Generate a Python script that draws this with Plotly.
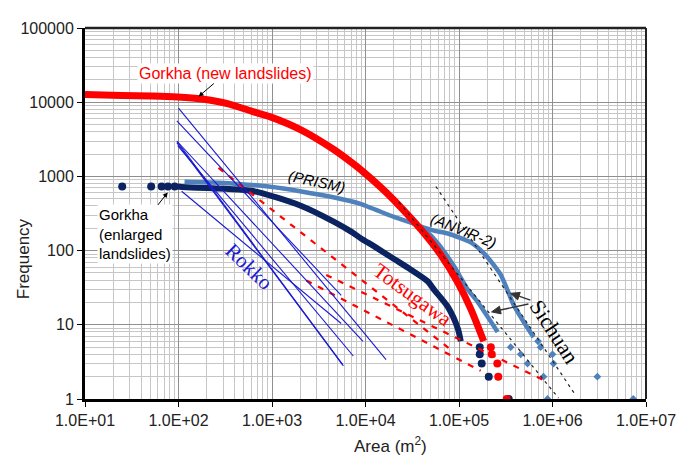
import plotly.graph_objects as go

# ---------------- data ----------------
x_tick_vals = [1e1, 1e2, 1e3, 1e4, 1e5, 1e6, 1e7]
x_tick_text = ["1.0E+01", "1.0E+02", "1.0E+03", "1.0E+04", "1.0E+05", "1.0E+06", "1.0E+07"]
y_tick_vals = [1, 10, 100, 1000, 10000, 100000]
y_tick_text = ["1", "10", "100", "1000", "10000", "100000"]

# Gorkha (new landslides) - red
gorkha_new_area = [10, 24.8, 51.8, 97.9, 177, 343, 603, 961, 2060, 4620, 7020, 8970, 14700, 20200, 39200, 64000, 97100, 133600, 183800]
gorkha_new_freq = [12670, 12290, 12110, 11750, 11050, 9500, 7560, 6340, 4210, 2285, 1558, 1222, 707, 477, 192, 87, 37, 16.4, 6]
gorkha_new_tail_area = [219000, 224000, 257000, 263000, 324000]
gorkha_new_tail_freq = [5, 4, 3, 2, 1]

# Gorkha (enlarged landslides) - navy
gorkha_enl_dot_area = [25, 51, 66, 77, 91]
gorkha_enl_dot_freq = [730, 730, 730, 730, 730]
gorkha_enl_area = [98, 108, 603, 2060, 4620, 7020, 8970, 12400, 20200, 28500, 46500, 53800, 76000, 97100, 104500]
gorkha_enl_freq = [730, 718, 640, 400, 244, 180, 146, 114, 77, 58.6, 38.3, 30, 17.4, 8.9, 6]
gorkha_enl_tail_area = [166700, 166700, 175000, 208000, 340000]
gorkha_enl_tail_freq = [5, 4, 3, 2, 1]

# Sichuan (PRISM) - light blue
prism_area = [116, 268, 916, 2060, 7020, 8970, 20200, 39200, 59400, 88100, 124000, 158500, 259000]
prism_freq = [849, 824, 730, 627, 463, 422, 284, 210, 125, 62, 30, 20.3, 8]
prism_tail_area = [357000, 457000, 541000, 801000, 885000]
prism_tail_freq = [5, 4, 3, 2, 1]

# Sichuan (ANVIR-2) - light blue
anvir_area = [39200, 53800, 76000, 133600, 183800, 235000, 279000, 331000, 384000, 491000, 628000]
anvir_freq = [210, 186, 170, 129, 92.5, 64.2, 47.3, 29.1, 18.5, 11.0, 6.8]
anvir_tail_area = [700000, 745000, 1000000, 1025000, 3020000, 7310000]
anvir_tail_freq = [6, 5, 4, 3, 2, 1]

# Sichuan power-law fits (black dotted)
fit1_area = [56600, 1760000]
fit1_freq = [730, 1.13]
fit2_area = [22800, 1160000]
fit2_freq = [449, 1.03]

# Totsugawa (red dashed)
totsu_areas = [[268, 85900], [2330, 170600], [3800, 906000]]
totsu_freqs = [[1300, 4.4], [39.5, 2.4], [47, 1.67]]

# Rokko (thin blue)
rokko_areas = [[100, 16600], [96, 5500], [96, 9400], [96, 5800], [97, 5700], [98, 7400], [108, 5500]]
rokko_freqs = [[8300, 3.4], [5600, 25], [3000, 6], [2850, 2.8], [2950, 2.9], [2600, 3.8], [630, 10.4]]

# ---------------- layout helpers ----------------
# the page body adds an 8px offset, so the figure is laid out 8px up/left
OFF = 8
W, H = 690, 460
PLOT_X0, PLOT_X1 = 83, 646      # plot area in reference pixels
PLOT_Y0, PLOT_Y1 = 20, 399
PW, PH = PLOT_X1 - PLOT_X0, PLOT_Y1 - PLOT_Y0
L = PLOT_X0 - OFF
T = PLOT_Y0 - OFF
R = W - L - PW
B = H - T - PH


def pxx(px):
    return (px - PLOT_X0) / PW


def pxy(py):
    return (PLOT_Y1 - py) / PH


RED = "#ff0000"
NAVY = "#0b2461"
LBLUE = "#4f81bd"
ROKKO = "#1a1ad0"
SANS = "Liberation Sans, Arial, sans-serif"
SERIF = "Liberation Serif, Times New Roman, serif"

fig = go.Figure()

# ANVIR-2
fig.add_trace(go.Scatter(x=anvir_area, y=anvir_freq, mode="lines", line=dict(color=LBLUE, width=4.5, shape="spline", smoothing=0.6), hoverinfo="skip"))
fig.add_trace(go.Scatter(x=anvir_tail_area, y=anvir_tail_freq, mode="markers", marker=dict(color=LBLUE, size=6, symbol="diamond"), hoverinfo="skip"))
# PRISM
fig.add_trace(go.Scatter(x=prism_area, y=prism_freq, mode="lines", line=dict(color=LBLUE, width=4.5, shape="spline", smoothing=0.6), hoverinfo="skip"))
fig.add_trace(go.Scatter(x=prism_tail_area, y=prism_tail_freq, mode="markers", marker=dict(color=LBLUE, size=6, symbol="diamond"), hoverinfo="skip"))

# Gorkha enlarged
fig.add_trace(go.Scatter(x=gorkha_enl_area, y=gorkha_enl_freq, mode="lines", line=dict(color=NAVY, width=6, shape="spline", smoothing=0.7), hoverinfo="skip"))
fig.add_trace(go.Scatter(x=gorkha_enl_dot_area + gorkha_enl_tail_area, y=gorkha_enl_dot_freq + gorkha_enl_tail_freq, mode="markers", marker=dict(color=NAVY, size=8), hoverinfo="skip"))

# Gorkha new
fig.add_trace(go.Scatter(x=gorkha_new_area, y=gorkha_new_freq, mode="lines", line=dict(color=RED, width=7, shape="spline", smoothing=0.7), hoverinfo="skip"))
fig.add_trace(go.Scatter(x=gorkha_new_tail_area, y=gorkha_new_tail_freq, mode="markers", marker=dict(color=RED, size=8), hoverinfo="skip"))

# Totsugawa
for xa, ya in zip(totsu_areas, totsu_freqs):
    fig.add_trace(go.Scatter(x=xa, y=ya, mode="lines", line=dict(color=RED, width=2.2, dash="6px,7px"), hoverinfo="skip"))

# Rokko
for xa, ya in zip(rokko_areas, rokko_freqs):
    fig.add_trace(go.Scatter(x=xa, y=ya, mode="lines", line=dict(color=ROKKO, width=1.1), hoverinfo="skip"))

# Sichuan fits
for xa, ya in [(fit1_area, fit1_freq), (fit2_area, fit2_freq)]:
    fig.add_trace(go.Scatter(x=xa, y=ya, mode="lines", line=dict(color="#222222", width=1.2, dash="3px,4px"), hoverinfo="skip"))

minor_x = [m * 10 ** k for k in range(1, 7) for m in range(2, 10)]
minor_y = [m * 10 ** k for k in range(0, 5) for m in range(2, 10)]

axis_common = dict(
    type="log", showgrid=True, gridcolor="#8f8f8f", gridwidth=1,
    showline=True, linecolor="black", linewidth=3, mirror=False,
    ticks="outside", ticklen=5, tickcolor="black", tickwidth=1,
    tickfont=dict(family=SANS, size=16, color="#222222"), zeroline=False,
)
fig.update_xaxes(range=[1, 7], tickvals=x_tick_vals, ticktext=x_tick_text,
                 minor=dict(tickvals=minor_x, showgrid=True, gridcolor="#c6c6c6", gridwidth=1, ticks=""),
                 **axis_common)
fig.update_yaxes(range=[0, 5], tickvals=y_tick_vals, ticktext=y_tick_text,
                 minor=dict(tickvals=minor_y, showgrid=True, gridcolor="#c6c6c6", gridwidth=1, ticks=""),
                 **axis_common)

ann = []
# axis titles
ann.append(dict(text="Area (m<sup>2</sup>)", x=pxx(390), y=pxy(446), xref="paper", yref="paper", showarrow=False,
                font=dict(family=SANS, size=17, color="#222222"), xanchor="center", yanchor="middle"))
ann.append(dict(text="Frequency", x=pxx(21), y=pxy(256), xref="paper", yref="paper", showarrow=False, textangle=-90,
                font=dict(family=SANS, size=17, color="#222222"), xanchor="center", yanchor="middle"))
# labels with arrows (arrow head on the curve, text at the tail)
ann.append(dict(text="Gorkha (new landslides)", x=pxx(197), y=pxy(90), xref="paper", yref="paper",
                showarrow=True, ax=27, ay=-23, arrowhead=2, arrowsize=1, arrowwidth=1, arrowcolor="black",
                font=dict(family=SANS, size=16, color=RED), bgcolor="white", borderpad=1))
ann.append(dict(text="Gorkha<br>(enlarged<br>landslides)", x=pxx(166), y=pxy(188), xref="paper", yref="paper",
                showarrow=True, ax=-33, ay=42, arrowhead=2, arrowsize=1, arrowwidth=1, arrowcolor="black",
                font=dict(family=SANS, size=15, color="black"), bgcolor="white", align="left", borderpad=1))
ann.append(dict(text="<i>(PRISM)</i>", x=pxx(316), y=pxy(177), xref="paper", yref="paper", showarrow=False, textangle=12,
                font=dict(family=SANS, size=15, color="black"), xanchor="center", yanchor="middle"))
ann.append(dict(text="<i>(ANVIR-2)</i>", x=pxx(463), y=pxy(227), xref="paper", yref="paper", showarrow=False, textangle=22,
                font=dict(family=SANS, size=15, color="black"), xanchor="center", yanchor="middle"))
ann.append(dict(text="Rokko", x=pxx(248), y=pxy(264), xref="paper", yref="paper", showarrow=False, textangle=44,
                font=dict(family=SERIF, size=21, color=ROKKO), xanchor="center", yanchor="middle"))
ann.append(dict(text="Totsugawa", x=pxx(412), y=pxy(293), xref="paper", yref="paper", showarrow=False, textangle=36,
                font=dict(family=SERIF, size=21, color=RED), xanchor="center", yanchor="middle"))
ann.append(dict(text="Sichuan", x=pxx(554), y=pxy(330), xref="paper", yref="paper", showarrow=False, textangle=57,
                font=dict(family=SERIF, size=22, color="black"), xanchor="center", yanchor="middle"))


def arrow_shapes(tail, head, color="#333333", hl=9.0, hw=4.0, width=1.4):
    import math
    dx, dy = head[0] - tail[0], head[1] - tail[1]
    n = math.hypot(dx, dy)
    ux, uy = dx / n, dy / n
    bx, by = head[0] - hl * ux, head[1] - hl * uy
    px_, py_ = -uy * hw, ux * hw
    pts = [head, (bx + px_, by + py_), (bx - px_, by - py_)]
    path = "M " + " L ".join(f"{pxx(a):.5f},{pxy(b):.5f}" for a, b in pts) + " Z"
    return [
        dict(type="line", xref="paper", yref="paper", x0=pxx(tail[0]), y0=pxy(tail[1]), x1=pxx(bx), y1=pxy(by),
             line=dict(color=color, width=width)),
        dict(type="path", xref="paper", yref="paper", path=path, fillcolor=color, line=dict(color=color, width=1)),
    ]


shapes = [
    dict(type="line", xref="paper", yref="paper", x0=0, x1=1, y0=1, y1=1, line=dict(color="#222222", width=2.5)),
    dict(type="line", xref="paper", yref="paper", x0=1, x1=1, y0=0, y1=1, line=dict(color="#222222", width=2)),
]
shapes += arrow_shapes((530, 298), (510, 291))
shapes += arrow_shapes((528, 302), (491, 310))

fig.update_layout(
    width=W, height=H, margin=dict(l=L, r=R, t=T, b=B),
    paper_bgcolor="white", plot_bgcolor="white", showlegend=False,
    annotations=ann, shapes=shapes,
    font=dict(family=SANS),
)

fig.write_html("out.html")
